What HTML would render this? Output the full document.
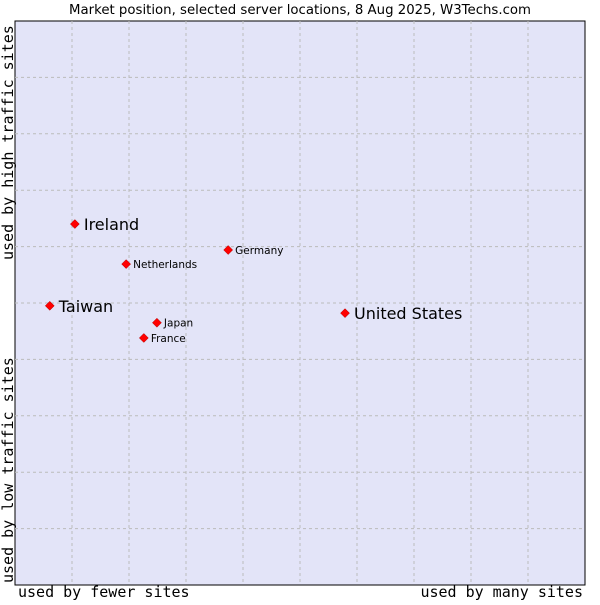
<!DOCTYPE html>
<html><head><meta charset="utf-8"><style>
body{margin:0;background:#fff;width:600px;height:600px;overflow:hidden}
svg text{font-family:"DejaVu Sans","Liberation Sans",sans-serif}
.mono{font-family:"DejaVu Sans Mono","Liberation Mono",monospace}
</style></head><body>
<svg id="c" width="600" height="600">
<text x="300" y="14" text-anchor="middle" font-size="13.3" fill="#000">Market position, selected server locations, 8 Aug 2025, W3Techs.com</text>
<rect x="15" y="21" width="570" height="564" fill="#e3e4f8" stroke="#000" stroke-width="1"/>
<g id="grid"></g>
<g id="pts"></g>
<text class="mono" x="18" y="597" font-size="15">used by fewer sites</text>
<text class="mono" x="583" y="597" font-size="15" text-anchor="end">used by many sites</text>
<text class="mono" transform="translate(13,583) rotate(-90)" font-size="15">used by low traffic sites</text>
<text class="mono" transform="translate(13,260) rotate(-90)" font-size="15">used by high traffic sites</text>
</svg>
<script>
const names=["Ireland","Netherlands","Germany","Taiwan","United States","Japan","France"];
const xVals=[1.05,1.95,3.74,0.61,5.79,2.49,2.26];
const yVals=[6.4,5.69,5.94,4.95,4.82,4.65,4.38];
const big=[true,false,false,true,true,false,false];
const X0=15,X1=585,Y0=585,Y1=21;
const sx=v=>X0+v/10*(X1-X0), sy=v=>Y0-v/10*(Y0-Y1);
const NS="http://www.w3.org/2000/svg";
const g=document.getElementById('grid');
for(let i=1;i<10;i++){
 const v=document.createElementNS(NS,'line');
 v.setAttribute('x1',sx(i));v.setAttribute('x2',sx(i));v.setAttribute('y1',Y1);v.setAttribute('y2',Y0);
 v.setAttribute('stroke','#bbb');v.setAttribute('stroke-dasharray','3,3');
 
 
 g.appendChild(v);
 const h=document.createElementNS(NS,'line');
 h.setAttribute('y1',sy(i));h.setAttribute('y2',sy(i));h.setAttribute('x1',X0);h.setAttribute('x2',X1);
 h.setAttribute('stroke','#bbb');h.setAttribute('stroke-dasharray','3,3');
 
 
 g.appendChild(h);
}
const p=document.getElementById('pts');
names.forEach((n,i)=>{
 const x=sx(xVals[i]),y=sy(yVals[i]);
 const d=document.createElementNS(NS,'polygon');
 d.setAttribute('points',`${x},${y-4.5} ${x+4.5},${y} ${x},${y+4.5} ${x-4.5},${y}`);
 d.setAttribute('fill','#f00');d.setAttribute('stroke','#a00');d.setAttribute('stroke-width','0.5');
 
 
 p.appendChild(d);
 const t=document.createElementNS(NS,'text');
 t.setAttribute('x',x+(big[i]?9:7));t.setAttribute('y',y+(big[i]?6:4));
 t.setAttribute('font-size',big[i]?16:10.5);
 t.textContent=n;
 
 
 p.appendChild(t);
});
</script>
</body></html>
